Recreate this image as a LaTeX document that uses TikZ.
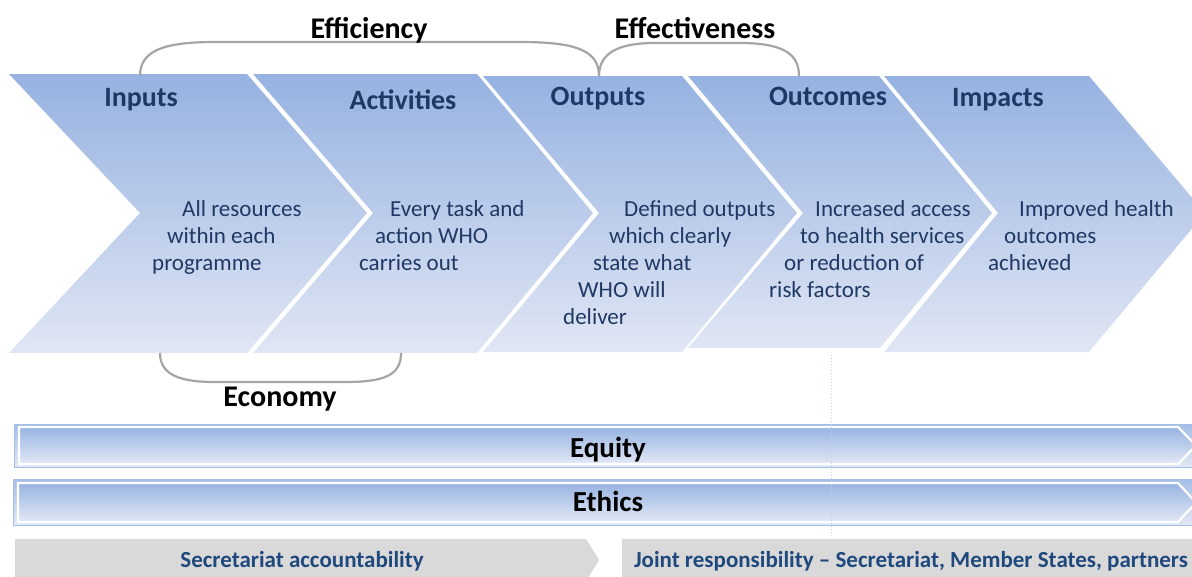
\documentclass[tikz,border=0pt]{standalone}
\usepackage{fontspec}
\setmainfont{Carlito}
\definecolor{navy}{RGB}{31,56,100}
\definecolor{navyb}{RGB}{31,73,125}
\definecolor{chtop}{RGB}{150,178,225}
\definecolor{chbot}{RGB}{224,230,244}
\definecolor{bartop}{RGB}{152,180,226}
\definecolor{barbot}{RGB}{226,232,245}
\definecolor{barline}{RGB}{165,190,230}
\definecolor{arcgray}{RGB}{165,165,165}
\definecolor{greybar}{RGB}{217,217,217}
\definecolor{dotblue}{RGB}{190,208,232}
\tikzset{
  chev/.style={top color=chtop, bottom color=chbot, draw=none},
  ttl/.style={anchor=base, text=navy, font=\fontsize{28}{34}\selectfont\bfseries, inner sep=0pt},
  body/.style={anchor=base west, text=navy, font=\fontsize{23}{27}\selectfont, inner sep=0pt},
  lbl/.style={anchor=base, text=black, font=\fontsize{30}{36}\selectfont\bfseries, inner sep=0pt},
  brace/.style={draw=arcgray, line width=2.2pt},
  barouter/.style={top color=barline, bottom color=barbot, draw=barline, line width=0.8pt},
  barinner/.style={top color=bartop, bottom color=barbot, draw=white, line width=2.2pt},
  bartxt/.style={anchor=base, text=black, font=\fontsize{29}{34}\selectfont\bfseries, inner sep=0pt},
  greyshape/.style={fill=greybar, draw=none},
  greytxt/.style={anchor=base, text=navyb, font=\fontsize{23}{27}\selectfont\bfseries, inner sep=0pt},
  dotline/.style={draw=dotblue, dotted, line width=1pt}
}
\begin{document}
\begin{tikzpicture}[x=1pt,y=-1pt]
\useasboundingbox (0,0) rectangle (1192,576);
\clip (0,0) rectangle (1192,576);

% chevrons
\shade[chev] (9,74) -- (247,74) -- (367,213) -- (247,353) -- (9,353) -- (140,213) -- cycle;
\shade[chev] (253,74) -- (477,74) -- (593,213) -- (477,353) -- (253,353) -- (373,213) -- cycle;
\shade[chev] (483,76) -- (682,76) -- (797,213) -- (682,352) -- (483,352) -- (599,213) -- cycle;
\shade[chev] (688,76) -- (879,76) -- (992,213) -- (880,348) -- (688,348) -- (803,213) -- cycle;
\shade[chev] (884,76) -- (1089,76) -- (1205,213) -- (1089,352) -- (884,352) -- (998,213) -- cycle;

% bracket anchor points
\coordinate (effL) at (140,76);
\coordinate (effM) at (599,76);
\coordinate (effR) at (799,76);
\coordinate (ecoL) at (160,353);
\coordinate (ecoR) at (401,353);

% titles
\node[ttl] (tin) at (141,106) {Inputs};
\node[ttl] (tact) at (403,109) {Activities};
\node[ttl] (tout) at (598,105) {Outputs};
\node[ttl] (tocm) at (828,105) {Outcomes};
\node[ttl] (timp) at (998,106) {Impacts};

% body texts
\node[body] (b1a) at (182,216) {All resources};
\node[body] (b1b) at (167,243) {within each};
\node[body] (b1c) at (152,270) {programme};
\node[body] (b2a) at (390,216) {Every task and};
\node[body] (b2b) at (375,243) {action WHO};
\node[body] (b2c) at (359,270) {carries out};
\node[body] (b3a) at (624,216) {Defined outputs};
\node[body] (b3b) at (609,243) {which clearly};
\node[body] (b3c) at (593,270) {state what};
\node[body] (b3d) at (578,297) {WHO will};
\node[body] (b3e) at (563,324) {deliver};
\node[body] (b4a) at (815,216) {Increased access};
\node[body] (b4b) at (800,243) {to health services};
\node[body] (b4c) at (784,270) {or reduction of};
\node[body] (b4d) at (769,297) {risk factors};
\node[body] (b5a) at (1019,216) {Improved health};
\node[body] (b5b) at (1004,243) {outcomes};
\node[body] (b5c) at (988,270) {achieved};

% brackets
\draw[brace] (effL) .. controls (140,50) and (165,42) .. (215,42) -- (520,42) .. controls (575,42) and (599,50) .. (effM);
\draw[brace] (effM) .. controls (599,52) and (620,43) .. (655,43) -- (740,43) .. controls (785,43) and (799,55) .. (effR);
\draw[brace] (ecoL) .. controls (160,375) and (180,382) .. (215,382) -- (345,382) .. controls (385,382) and (401,375) .. (ecoR);
\node[lbl] (leff) at (369,38) {Efficiency};
\node[lbl] (lefv) at (695,38) {Effectiveness};
\node[lbl] (leco) at (280,406) {Economy};

% equity / ethics bars
\shade[barouter] (14,424) rectangle (1210,467);
\shade[barinner] (19,427) -- (1178,427) -- (1196,445.5) -- (1178,464) -- (19,464) -- cycle;
\node[bartxt] (equity) at (608,457) {Equity};
\shade[barouter] (13,479) rectangle (1210,525);
\shade[barinner] (18,483) -- (1178,483) -- (1196,502.5) -- (1178,522) -- (18,522) -- cycle;
\node[bartxt] (ethics) at (608,511) {Ethics};

% dotted divider
\coordinate (dtop) at (831,355);
\coordinate (dbot) at (831,536);
\draw[dotline] (dtop) -- (dbot);

% grey bottom bars
\fill[greyshape] (15,539) -- (586,539) -- (599,560) -- (586,581) -- (15,581) -- cycle;
\fill[greyshape] (622,539) rectangle (1200,581);
\node[greytxt] (sec) at (302,567) {Secretariat accountability};
\node[greytxt] (joint) at (911,567) {Joint responsibility – Secretariat, Member States, partners};
\end{tikzpicture}
\end{document}
